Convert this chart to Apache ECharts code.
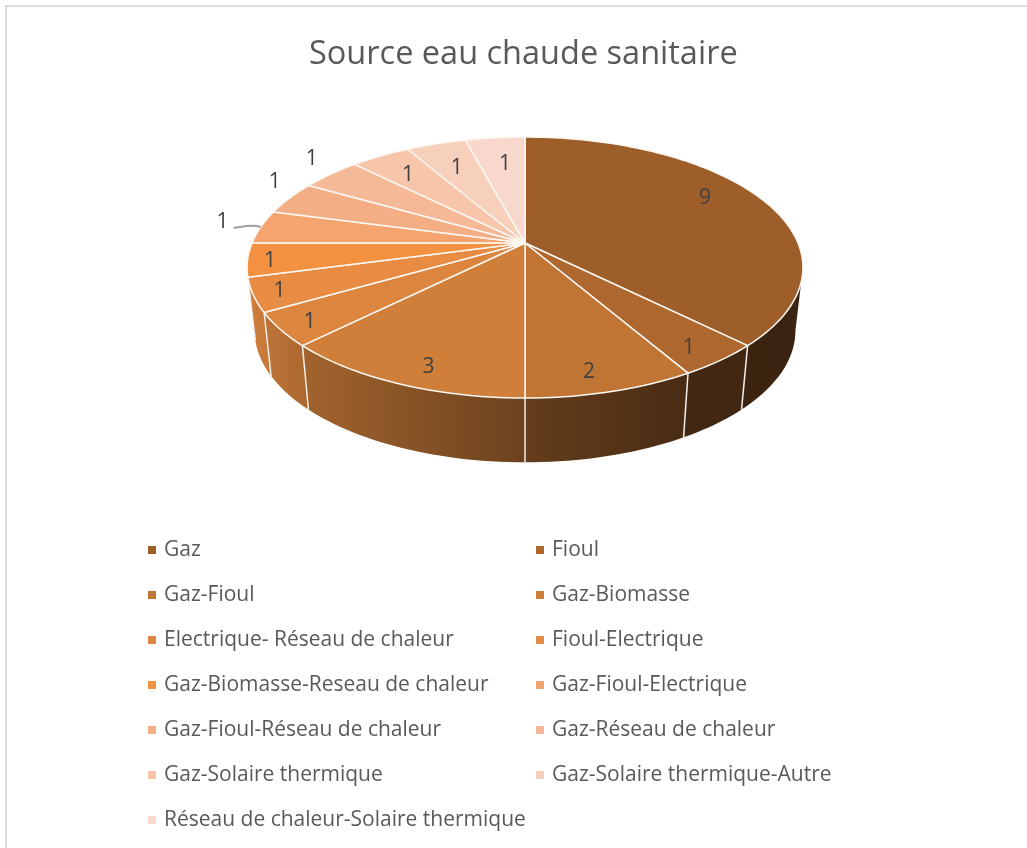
<!DOCTYPE html>
<html>
<head>
<meta charset="utf-8">
<title>Source eau chaude sanitaire</title>
<script src="https://cdn.jsdelivr.net/npm/echarts@6/dist/echarts.min.js"></script>
<style>
  html, body { margin: 0; background: #fff; }
  #chart { width: 1027px; height: 848px; }
</style>
</head>
<body>
<div id="chart"></div>
<script>
  const titleText = 'Source eau chaude sanitaire'
  const categories = [
    'Gaz', 'Fioul', 'Gaz-Fioul', 'Gaz-Biomasse', 'Electrique- Réseau de chaleur',
    'Fioul-Electrique', 'Gaz-Biomasse-Reseau de chaleur', 'Gaz-Fioul-Electrique',
    'Gaz-Fioul-Réseau de chaleur', 'Gaz-Réseau de chaleur', 'Gaz-Solaire thermique',
    'Gaz-Solaire thermique-Autre', 'Réseau de chaleur-Solaire thermique'
  ]
  const values = [9, 1, 2, 3, 1, 1, 1, 1, 1, 1, 1, 1, 1]
  const sliceColors = [
    '#9e5e2a', '#ae682f', '#c07534', '#cf7f3a', '#db853f', '#e78c42', '#f39141',
    '#f4a46e', '#f4ae85', '#f5b998', '#f6c5aa', '#f6d0bb', '#f8d8cc'
  ]
  // where each label sits: fraction of the radius, and degrees away from the slice middle
  const labelReach = [0.81, 0.884, 0.876, 0.874, 0.897, 0.91, 0.92, 1.16, 1.15, 1.187, 0.776, 0.737, 0.736]
  const labelTurn = [-6.5, 1.5, 2, -2.5, -0.5, 0, -0.7, 1.5, 6, 3.5, -0.5, 0, 1]
  const leaderSlices = [7]

  const total = values.reduce((a, b) => a + b, 0)
  const starts = values.map((v, i) => values.slice(0, i).reduce((a, b) => a + b, 0) * 360 / total)

  // the disc is seen in perspective, so its centre is not the middle of the ellipse
  const cx = 525
  const tilt = 0.1878
  const topFace = { cy: 243, a: 273, b: 125.9 }
  const bottomFace = { cy: 306, a: 265.6, b: 127 }
  const visibleFrom = 100.8
  const visibleTo = 259.2

  function project(deg, face, reach) {
    const r = reach === undefined ? 1 : reach
    const t = deg * Math.PI / 180
    const u = Math.sin(t) * r
    const v = -Math.cos(t) * r
    const w = 1 - tilt * v
    return [cx + face.a * u / w, face.cy + face.b * v / w]
  }

  function rim(from, to, face) {
    const pts = []
    const n = Math.max(2, Math.ceil((to - from) / 1.5))
    for (let i = 0; i <= n; i++) pts.push(project(from + (to - from) * i / n, face))
    return pts
  }

  // how dark the side wall is along the page, 1 is the colour of the top
  const shadeStops = [[247, 0.9], [307, 0.78], [525, 0.52], [687, 0.38], [803, 0.37]]

  function shadeColor(hex, f) {
    const n = parseInt(hex.slice(1), 16)
    const c = [n >> 16, (n >> 8) & 255, n & 255].map(x => Math.round(x * f))
    return 'rgb(' + c.join(',') + ')'
  }

  function sideFill(color) {
    const x0 = shadeStops[0][0]
    const x1 = shadeStops[shadeStops.length - 1][0]
    const stops = shadeStops.map(s => ({ offset: (s[0] - x0) / (x1 - x0), color: shadeColor(color, s[1]) }))
    return new echarts.graphic.LinearGradient(x0, 0, x1, 0, stops, true)
  }

  function renderSlice(params, api) {
    const i = params.seriesIndex
    const from = starts[i]
    const to = from + api.value(0) * 360 / total
    const color = sliceColors[i]
    const children = []

    const sideFrom = Math.max(from, visibleFrom)
    const sideTo = Math.min(to, visibleTo)
    if (sideTo > sideFrom) {
      children.push({
        type: 'polygon',
        z2: 1,
        shape: { points: rim(sideFrom, sideTo, topFace).concat(rim(sideFrom, sideTo, bottomFace).reverse()) },
        style: { fill: sideFill(color), stroke: null }
      })
    }
    if (to > visibleFrom && to < visibleTo) {
      const a = project(to, topFace)
      const b = project(to, bottomFace)
      children.push({
        type: 'line',
        z2: 2,
        shape: { x1: a[0], y1: a[1], x2: b[0], y2: b[1] },
        style: { stroke: '#f2eee9', lineWidth: 1.5 }
      })
    }

    children.push({
      type: 'polygon',
      z2: 3,
      shape: { points: [[cx, topFace.cy]].concat(rim(from, to, topFace)) },
      style: { fill: color, stroke: '#fbf7f2', lineWidth: 1.5, lineJoin: 'round' }
    })

    const mid = (from + to) / 2 + labelTurn[i]
    const pos = project(mid, topFace, labelReach[i])
    children.push({
      type: 'text',
      z2: 5,
      style: {
        x: pos[0], y: pos[1] + 1.5,
        text: String(api.value(0)),
        fill: '#404040',
        font: '21px "Open Sans"',
        align: 'center',
        verticalAlign: 'middle'
      }
    })
    if (leaderSlices.indexOf(i) >= 0) {
      const end = project((from + to) / 2, topFace)
      children.push({
        type: 'bezierCurve',
        z2: 4,
        shape: {
          x1: pos[0] + 11, y1: pos[1] + 7,
          x2: end[0], y2: end[1],
          cpx1: pos[0] + 20, cpy1: pos[1] + 6,
          cpx2: end[0] - 10, cpy2: end[1] - 3
        },
        style: { stroke: '#a0a0a0', lineWidth: 2, fill: null }
      })
    }
    return { type: 'group', children: children }
  }

  const legendBase = {
    orient: 'vertical',
    top: 539,
    itemWidth: 8,
    itemHeight: 8,
    itemGap: 23,
    icon: 'rect',
    selectedMode: false,
    padding: 0,
    textStyle: {
      color: '#595959',
      fontFamily: 'Open Sans',
      fontSize: 21,
      lineHeight: 22,
      padding: [0, 0, 0, 3]
    }
  }

  const myChart = echarts.init(document.getElementById('chart'), null, { renderer: 'canvas' })
  myChart.setOption({
    animation: false,
    backgroundColor: '#fff',
    title: {
      text: titleText,
      left: 304,
      top: 33,
      textStyle: { color: '#595959', fontFamily: 'Open Sans', fontSize: 32.5, fontWeight: 400 }
    },
    legend: [
      Object.assign({}, legendBase, { left: 148, data: categories.filter((c, i) => i % 2 === 0) }),
      Object.assign({}, legendBase, { left: 536, data: categories.filter((c, i) => i % 2 === 1) })
    ],
    graphic: [
      { type: 'line', silent: true, shape: { x1: 5, y1: 6, x2: 1027, y2: 6 }, style: { stroke: '#dcdcdc', lineWidth: 2 } },
      { type: 'line', silent: true, shape: { x1: 6, y1: 5, x2: 6, y2: 848 }, style: { stroke: '#dcdcdc', lineWidth: 2 } }
    ],
    series: categories.map((name, i) => ({
      type: 'custom',
      name: name,
      coordinateSystem: 'none',
      itemStyle: { color: sliceColors[i] },
      renderItem: renderSlice,
      data: [[values[i]]]
    }))
  })
</script>
</body>
</html>
